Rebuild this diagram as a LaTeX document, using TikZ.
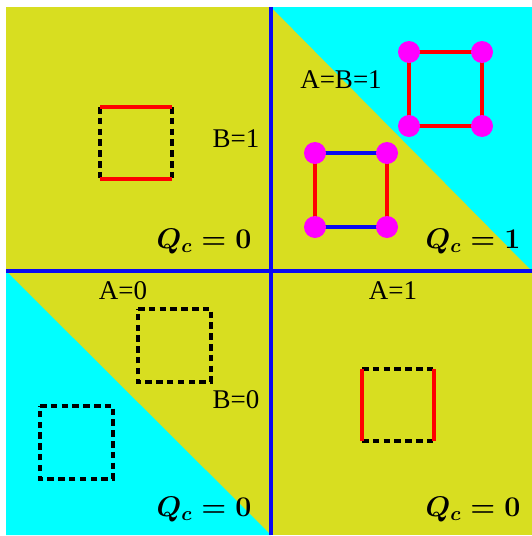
\RequirePackage{fix-cm}
\documentclass[tikz,border=0pt]{standalone}
\usepackage{fontspec}
\setmainfont{Liberation Serif}
\definecolor{ygreen}{RGB}{216,222,32}
\definecolor{cyanbg}{RGB}{0,255,255}
\definecolor{axisblue}{RGB}{10,10,240}
\definecolor{edgeblue}{RGB}{10,10,240}
\definecolor{edgered}{RGB}{255,0,0}
\definecolor{dotmag}{RGB}{255,0,255}
\begin{document}
\begin{tikzpicture}[x=1pt,y=-1pt,
  lbl/.style={anchor=base,inner sep=0pt,font=\fontsize{27}{32}\selectfont},
  qc/.style={anchor=base,inner sep=0pt,font=\fontsize{28.5}{34}\selectfont\boldmath},
  redline/.style={draw=edgered,line width=4pt},
  blueline/.style={draw=edgeblue,line width=4pt},
  dashline/.style={draw=black,line width=3.2pt,dash pattern=on 6.5pt off 4.3pt},
  dot/.style={circle,fill=dotmag,minimum size=22pt,inner sep=0pt},
  axisline/.style={draw=axisblue,line width=3.5pt}]
\useasboundingbox (0,0) rectangle (532,536);
% backgrounds
\fill[ygreen] (6,7) rectangle (532,535);
\fill[cyanbg] (271,7) -- (532,7) -- (532,271) -- cycle;
\fill[cyanbg] (6,271) -- (6,535) -- (271,535) -- cycle;
% axes
\coordinate (vt) at (271,7);
\coordinate (vb) at (271,535);
\coordinate (hl) at (6,271);
\coordinate (hr) at (532,271);
\draw[axisline] (vt) -- (vb);
\draw[axisline] (hl) -- (hr);
% top-left square
\coordinate (a1) at (100,107); \coordinate (a2) at (172,107);
\coordinate (a3) at (172,179); \coordinate (a4) at (100,179);
\draw[dashline] (a1) -- (a4);
\draw[dashline] (a2) -- (a3);
\draw[redline] (a1) -- (a2);
\draw[redline] (a4) -- (a3);
% top-right upper square
\coordinate (b1) at (409,52); \coordinate (b2) at (482,52);
\coordinate (b3) at (482,126); \coordinate (b4) at (409,126);
\draw[redline] (b1) -- (b2) -- (b3) -- (b4) -- cycle;
\node[dot] (bd1) at (b1) {};
\node[dot] (bd2) at (b2) {};
\node[dot] (bd3) at (b3) {};
\node[dot] (bd4) at (b4) {};
% top-right lower square
\coordinate (c1) at (315,153); \coordinate (c2) at (387,153);
\coordinate (c3) at (387,227); \coordinate (c4) at (315,227);
\draw[blueline] (c1) -- (c2);
\draw[blueline] (c4) -- (c3);
\draw[redline] (c1) -- (c4);
\draw[redline] (c2) -- (c3);
\node[dot] (cd1) at (c1) {};
\node[dot] (cd2) at (c2) {};
\node[dot] (cd3) at (c3) {};
\node[dot] (cd4) at (c4) {};
% bottom-left upper square
\coordinate (d1) at (138,309); \coordinate (d2) at (211,309);
\coordinate (d3) at (211,382); \coordinate (d4) at (138,382);
\draw[dashline] (d1) -- (d2) -- (d3) -- (d4) -- cycle;
% bottom-left lower square
\coordinate (e1) at (40,406); \coordinate (e2) at (113,406);
\coordinate (e3) at (113,479); \coordinate (e4) at (40,479);
\draw[dashline] (e1) -- (e2) -- (e3) -- (e4) -- cycle;
% bottom-right square
\coordinate (f1) at (362,369); \coordinate (f2) at (434,369);
\coordinate (f3) at (434,441); \coordinate (f4) at (362,441);
\draw[dashline] (f1) -- (f2);
\draw[dashline] (f4) -- (f3);
\draw[redline] (f1) -- (f4);
\draw[redline] (f2) -- (f3);
% labels
\node[lbl] (tB1) at (236,147) {B=1};
\node[lbl] (tAB) at (341,88) {A=B=1};
\node[lbl] (tA0) at (123,299) {A=0};
\node[lbl] (tA1) at (393,299) {A=1};
\node[lbl] (tB0) at (236,408) {B=0};
\node[qc] (q1) at (204,248) {$Q_c=0$};
\node[qc] (q2) at (473,248) {$Q_c=1$};
\node[qc] (q3) at (204,516) {$Q_c=0$};
\node[qc] (q4) at (473,516) {$Q_c=0$};
\end{tikzpicture}
\end{document}
